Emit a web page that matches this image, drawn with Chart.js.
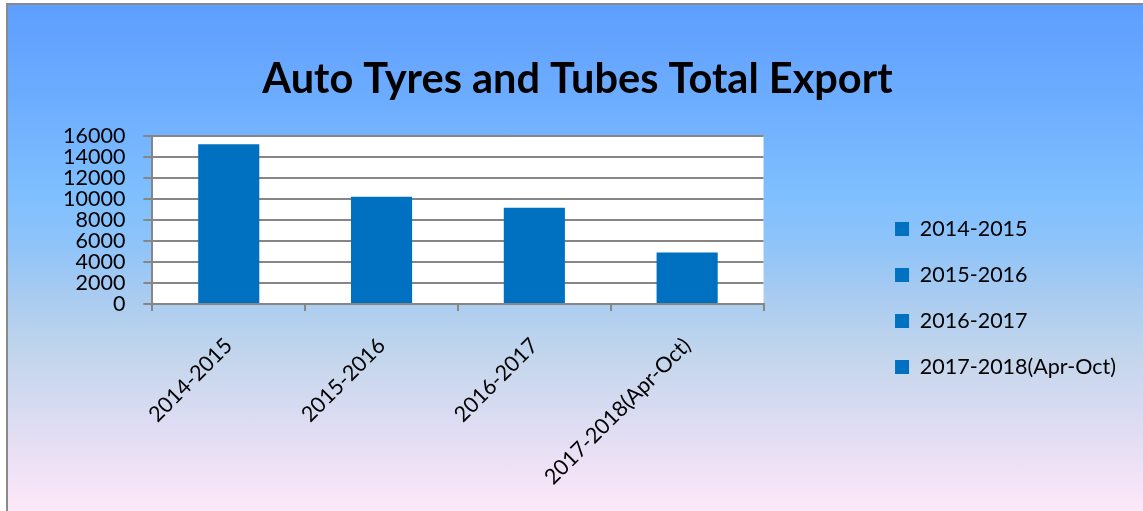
<!DOCTYPE html>
<html>
<head>
<meta charset="utf-8">
<script src="https://cdn.jsdelivr.net/npm/chart.js@4/dist/chart.umd.min.js"></script>
<style>
  html, body { margin: 0; padding: 0; background: #fff; overflow: hidden; }
  #frame {
    position: absolute; left: 6px; top: 3px; width: 1143px; height: 506px;
    border-left: 2px solid #8a8a8a; border-top: 2px solid #8a8a8a;
    background: linear-gradient(to bottom, #5e9eff 0%, #6eaeff 20%, #7ebfff 37%, #90c4f8 48%, #aaccf0 58%, #c4d6ec 70%, #dcdcf2 82%, #f0e2f6 92%, #fce8f8 100%);
  }
  #wrap { position: absolute; left: 0; top: 0; width: 1143px; height: 511px; }
</style>
</head>
<body>
<div id="frame"></div>
<div id="wrap"><canvas id="exportChart"></canvas></div>
<script>
const years = ['2014-2015', '2015-2016', '2016-2017', '2017-2018(Apr-Oct)'];
const exportTotal = [15200, 10200, 9150, 4900];
const yTicks = [0, 2000, 4000, 6000, 8000, 10000, 12000, 14000, 16000];

const barColor = '#0070c0';
const axisGray = '#868686';
const font = 'Lato, "Open Sans", sans-serif';

// white plot area behind the bars
const plotBackground = {
    id: 'plotBackground',
    beforeDraw(chart) {
        const { ctx, chartArea } = chart;
        ctx.save();
        ctx.fillStyle = '#ffffff';
        ctx.fillRect(chartArea.left, chartArea.top, chartArea.right - chartArea.left, chartArea.bottom - chartArea.top);
        ctx.restore();
    }
};

// nudge the legend block down and the title a little to the left
const layoutNudge = {
    id: 'layoutNudge',
    afterLayout(chart) {
        chart.legend.top += 27;
        chart.legend.bottom += 27;
        chart.titleBlock.left -= 8;
        chart.titleBlock.right -= 8;
    }
};

const ctx = document.getElementById('exportChart').getContext('2d');

new Chart(ctx, {
    type: 'bar',
    data: {
        labels: years,
        datasets: [
            {
                label: 'Total Export',
                data: exportTotal,
                backgroundColor: barColor,
                barPercentage: 0.4,
                categoryPercentage: 1
            }
        ]
    },
    options: {
        responsive: true,
        maintainAspectRatio: false,
        animation: false,
        layout: {
            padding: { left: 45, right: 17, top: 30, bottom: -1 }
        },
        plugins: {
            title: {
                display: true,
                text: 'Auto Tyres and Tubes Total Export',
                color: '#000',
                font: { family: font, size: 41.5, weight: 'bold' },
                padding: { top: 25, bottom: 31 }
            },
            legend: {
                position: 'right',
                labels: {
                    color: '#000',
                    font: { family: font, size: 21.5 },
                    boxWidth: 14,
                    boxHeight: 14,
                    padding: 24.5,
                    generateLabels: chart => chart.data.labels.map((label, i) => ({
                        text: label,
                        fillStyle: barColor,
                        strokeStyle: barColor,
                        lineWidth: 0,
                        hidden: false,
                        index: i
                    }))
                }
            },
            tooltip: { enabled: false }
        },
        scales: {
            x: {
                offset: true,
                grid: {
                    display: true,
                    drawOnChartArea: false,
                    color: axisGray,
                    lineWidth: 2,
                    tickLength: 7
                },
                border: { color: axisGray, width: 2 },
                ticks: {
                    color: '#000',
                    font: { family: font, size: 21.5 },
                    minRotation: 45,
                    maxRotation: 45,
                    padding: 22
                }
            },
            y: {
                min: 0,
                max: 16000,
                afterBuildTicks: axis => {
                    axis.ticks = yTicks.map(v => ({ value: v }));
                },
                grid: {
                    color: axisGray,
                    lineWidth: 2,
                    tickLength: 9
                },
                border: { color: axisGray, width: 2 },
                ticks: {
                    color: '#000',
                    font: { family: font, size: 21.5 },
                    padding: 18,
                    autoSkip: false,
                    callback: v => String(v)
                }
            },
            // empty spacer between the plot and the legend
            gap: {
                position: 'right',
                display: false,
                afterFit: axis => { axis.width = 107; }
            }
        }
    },
    plugins: [plotBackground, layoutNudge]
});
</script>
</body>
</html>
